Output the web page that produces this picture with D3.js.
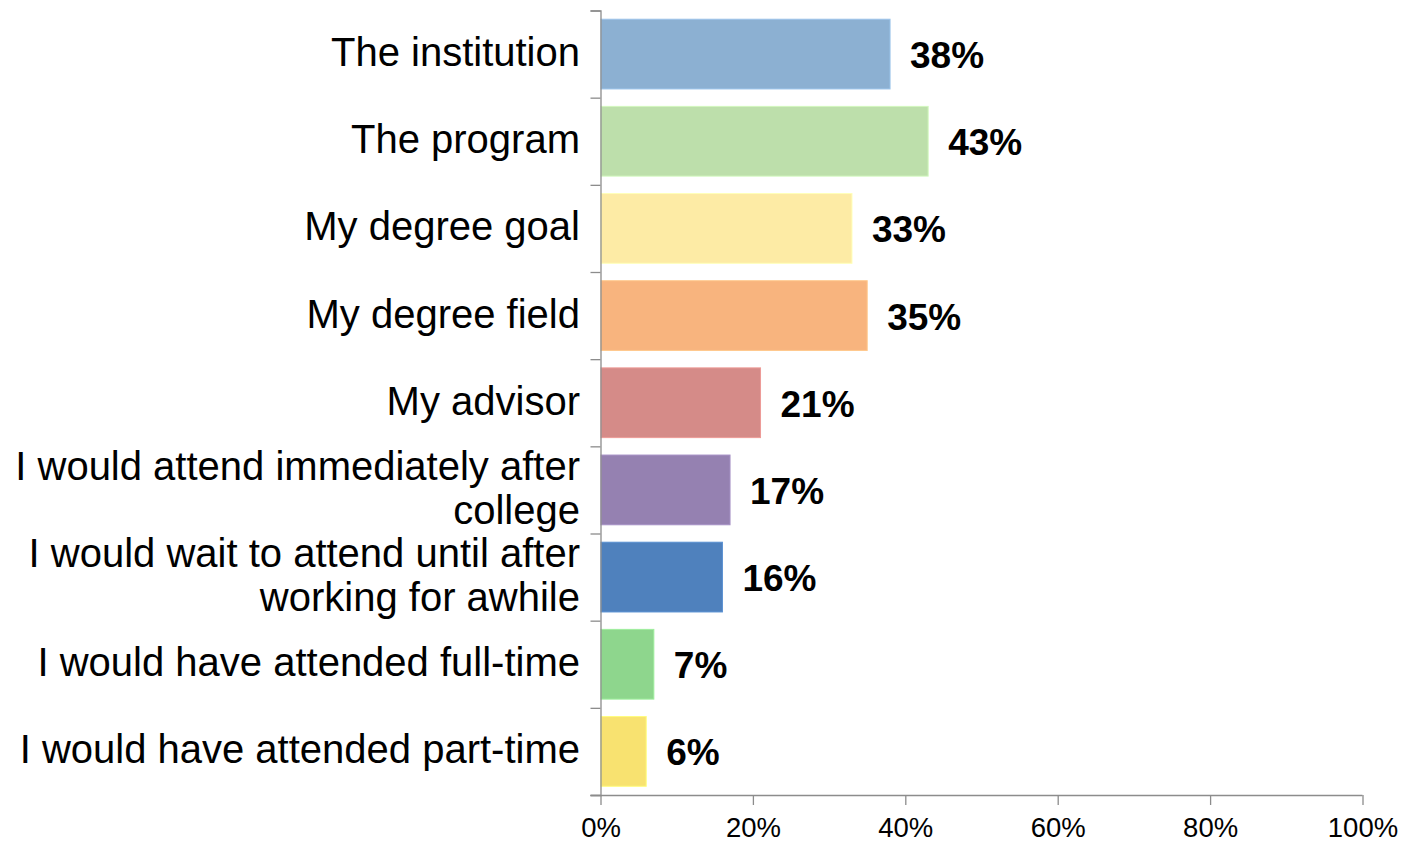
<!DOCTYPE html>
<html>
<head>
<meta charset="utf-8">
<script src="https://cdn.jsdelivr.net/npm/d3@7"></script>
<style>
  body { margin: 0; background: #fff; }
  svg text { font-family: Arial, "Liberation Sans", sans-serif; }
</style>
</head>
<body>
<svg id="chart" width="1410" height="842"></svg>
<script>
// data
var categories = [
  ['The institution'],
  ['The program'],
  ['My degree goal'],
  ['My degree field'],
  ['My advisor'],
  ['I would attend immediately after', 'college'],
  ['I would wait to attend until after', 'working for awhile'],
  ['I would have attended full-time'],
  ['I would have attended part-time']
];
var values = [38, 43, 33, 35, 21, 17, 16, 7, 6];
var colors = ['#8CB0D2', '#BDDFAB', '#FDEBA5', '#F8B47E', '#D58B88', '#9581B1', '#4F81BD', '#8ED68D', '#F8E270'];
var xTicks = [0, 20, 40, 60, 80, 100];

var svg = d3.select('#chart');
var marginL = 600.5, marginT = 10.5, w = 762, h = 784.5;

var x = d3.scaleLinear().domain([0, 100]).range([marginL, marginL + w]);
var y = d3.scaleBand().domain(d3.range(values.length)).range([marginT, marginT + h]).paddingInner(0.2).paddingOuter(0.1);

// bars
svg.selectAll('.bar')
  .data(values)
  .enter().append('rect')
  .attr('class', 'bar')
  .attr('x', x(0) + 0.5)
  .attr('y', function(d, i){ return y(i); })
  .attr('width', function(d){ return x(d) - x(0) - 0.5; })
  .attr('height', y.bandwidth())
  .attr('fill', function(d, i){ return colors[i]; })
  .attr('stroke', function(d, i){ return d3.color(colors[i]).brighter(0.3); })
  .attr('stroke-width', 1);

// value labels
svg.selectAll('.val')
  .data(values)
  .enter().append('text')
  .attr('class', 'val')
  .attr('x', function(d){ return x(d) + 20; })
  .attr('y', function(d, i){ return y(i) + y.bandwidth() / 2; })
  .attr('dy', '0.38em')
  .attr('font-size', 37)
  .attr('font-weight', 'bold')
  .attr('fill', '#000')
  .text(function(d){ return d + '%'; });

// y axis
var yAxis = d3.scaleLinear().domain([0, values.length]).range([marginT, marginT + h]);
var yg = svg.append('g').attr('transform', 'translate(' + marginL + ',0)')
  .call(d3.axisLeft(yAxis).ticks(values.length).tickSize(10).tickFormat(''));
yg.selectAll('path, line').attr('stroke', '#8c8c8c').attr('stroke-width', 1.3);

// category labels
svg.selectAll('.cat')
  .data(categories)
  .enter().append('text')
  .attr('class', 'cat')
  .attr('text-anchor', 'end')
  .attr('font-size', 40)
  .attr('fill', '#000')
  .each(function(lines, i){
    var cy = yAxis(i + 0.5);
    var t = d3.select(this);
    var lh = 44;
    lines.forEach(function(s, k){
      t.append('tspan')
        .attr('x', 580)
        .attr('y', cy - (lines.length - 1) * lh / 2 + k * lh)
        .attr('dy', '0.3em')
        .text(s);
    });
  });

// x axis
var xg = svg.append('g').attr('transform', 'translate(0,' + (marginT + h) + ')')
  .call(d3.axisBottom(x).tickValues(xTicks).tickSize(10).tickSizeOuter(0).tickPadding(12)
    .tickFormat(function(d){ return d + '%'; }));
xg.selectAll('path, line').attr('stroke', '#8c8c8c').attr('stroke-width', 1.3);
xg.selectAll('text').attr('font-size', 27.5).attr('fill', '#000')
  .attr('font-family', 'Arial, "Liberation Sans", sans-serif');
xg.select('.domain').attr('d', 'M' + (marginL - 10) + ',0.5H' + (marginL + w));
</script>
</body>
</html>
